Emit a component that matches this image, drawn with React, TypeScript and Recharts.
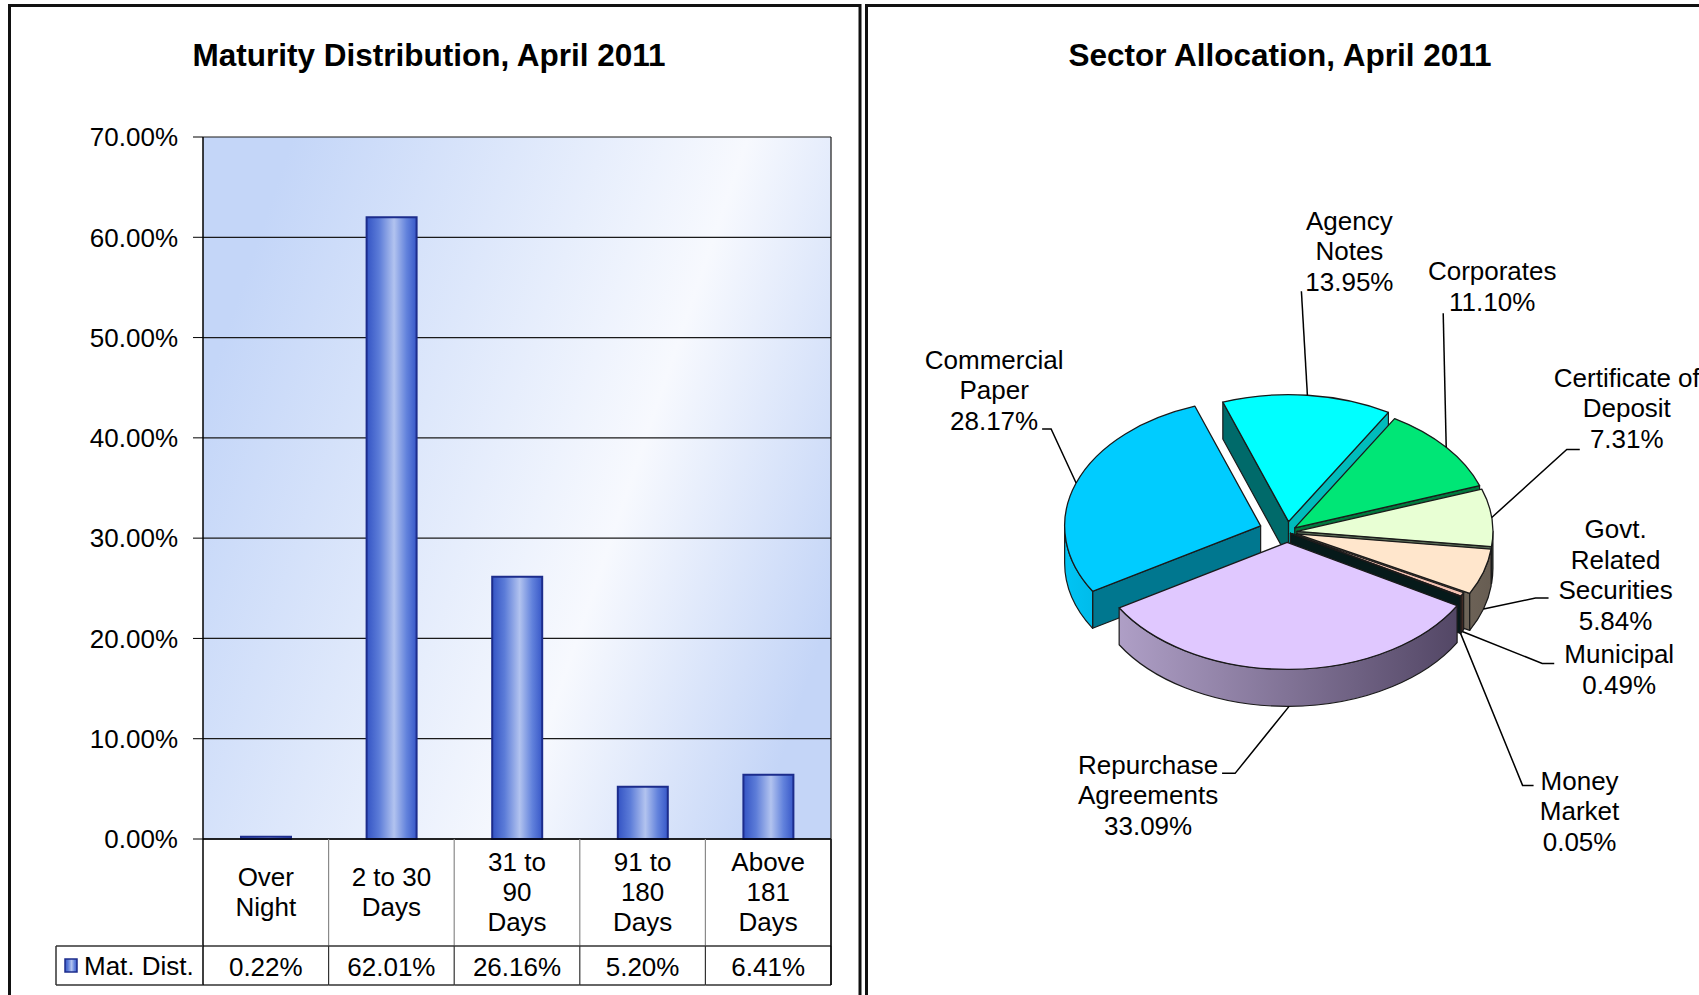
import { BarChart, Bar, XAxis, YAxis, CartesianGrid, PieChart, Pie } from "recharts"

// maturity distribution (left panel)
const maturityBuckets = ["Over\nNight", "2 to 30\nDays", "31 to\n90\nDays", "91 to\n180\nDays", "Above\n181\nDays"]
const maturityShares = [0.22, 62.01, 26.16, 5.2, 6.41]
const maturityTicks = [0, 10, 20, 30, 40, 50, 60, 70]
const seriesLabel = "Mat. Dist."

// sector allocation (right panel)
const sectorNames = [
  "Commercial\nPaper",
  "Agency\nNotes",
  "Corporates",
  "Certificate of\nDeposit",
  "Govt.\nRelated\nSecurities",
  "Municipal",
  "Money\nMarket",
  "Repurchase\nAgreements",
]
const sectorShares = [28.17, 13.95, 11.1, 7.31, 5.84, 0.49, 0.05, 33.09]

const FONT = "'Liberation Sans', Arial, Helvetica, sans-serif"
const EDGE = "#1a1a1a"

// fake 3d pie: tilt of the ellipse, wall depth, per-slice explode
const TILT = 0.648
const DEPTH = 37
const sliceLift = [28, 16, 10, 10, 10, 4, 4, 16]
const sliceTop = ["#00CCFF", "#00FFFF", "#00E676", "#E8FFD4", "#FFE6CC", "#F4C2B2", "#C88A7A", "#E0C8FF"]
const sliceWall = [
  ["#00C4F4", "#00536e"],
  ["#00c8c8", "#005a5a"],
  ["#00b85c", "#00562c"],
  ["#a6b89a", "#556650"],
  ["#bdae9c", "#675d52"],
  ["#a07060", "#3a2420"],
  ["#40302c", "#100808"],
  ["#b6a6ce", "#4c405e"],
]
const sliceCut = [
  ["#00778f", "#00778f"],
  ["#006a6a", "#00bcbc"],
  ["#007a3e", "#007a3e"],
  ["#5a6c56", "#5a6c56"],
  ["#6e6458", "#6e6458"],
  ["#2a1a18", "#2a1a18"],
  ["#061a1a", "#061a1a"],
  ["#6a5a80", "#6a5a80"],
]
// text block centre and leader elbow, relative to the slice's rim point
const labelShift = [[-82, -93], [42, -144], [46, -161], [135, -109], [132, -34], [157, 38], [119, 178], [-141, 89]]
const leaderBend = [[-25, -54, -9], [-6, -104, 0], [-3, -134, 0], [75, -68, 13], [52, -11, 13], [80, 32, 12], [62, 152, 11], [-54, 67, -13]]

const rad = (d: number) => (d * Math.PI) / 180

function sliceGeom(p: any) {
  const i = p.index as number
  const lift = sliceLift[i] ?? 0
  const m = rad(p.midAngle)
  const ox = p.cx + lift * Math.cos(m)
  const oy = p.cy - lift * TILT * Math.sin(m)
  const r = p.outerRadius as number
  const ry = r * TILT
  const at = (deg: number, dz = 0) => [ox + r * Math.cos(rad(deg)), oy - ry * Math.sin(rad(deg)) + dz]
  const hi = Math.max(p.startAngle, p.endAngle)
  const lo = Math.min(p.startAngle, p.endAngle)
  return { i, ox, oy, r, ry, hi, lo, mid: p.midAngle as number, at }
}

function renderCuts(p: any) {
  const g = sliceGeom(p)
  const faces: [number, string][] = []
  if (Math.cos(rad(g.hi)) < 0) faces.push([g.hi, sliceCut[g.i][0]])
  if (Math.cos(rad(g.lo)) > 0) faces.push([g.lo, sliceCut[g.i][1]])
  return (
    <g key={`cut-${g.i}`}>
      {faces.map(([a, c], k) => {
        const [x1, y1] = g.at(a)
        const [x2, y2] = g.at(a, DEPTH)
        return (
          <path
            key={k}
            d={`M${g.ox},${g.oy}L${x1},${y1}L${x2},${y2}L${g.ox},${g.oy + DEPTH}Z`}
            fill={c}
            stroke={EDGE}
            strokeWidth={1.2}
            strokeLinejoin="round"
          />
        )
      })}
    </g>
  )
}

function renderWalls(p: any) {
  const g = sliceGeom(p)
  const parts: number[][] = []
  for (const [a, b] of [[-540, -360], [-180, 0], [180, 360]]) {
    const a1 = Math.min(g.hi, b)
    const a2 = Math.max(g.lo, a)
    if (a1 - a2 > 0.05) parts.push([a1, a2])
  }
  const gid = `pie-wall-${g.i}`
  return (
    <g key={`wall-${g.i}`}>
      <defs>
        <linearGradient id={gid} gradientUnits="userSpaceOnUse" x1={g.ox - g.r} y1={0} x2={g.ox + g.r} y2={0}>
          <stop offset="0" stopColor={sliceWall[g.i][0]} />
          <stop offset="1" stopColor={sliceWall[g.i][1]} />
        </linearGradient>
      </defs>
      {parts.map(([a1, a2], k) => {
        const [x1, y1] = g.at(a1)
        const [x2, y2] = g.at(a2)
        const [x3, y3] = g.at(a2, DEPTH)
        const [x4, y4] = g.at(a1, DEPTH)
        return (
          <path
            key={k}
            d={`M${x1},${y1}A${g.r},${g.ry} 0 0 1 ${x2},${y2}L${x3},${y3}A${g.r},${g.ry} 0 0 0 ${x4},${y4}Z`}
            fill={`url(#${gid})`}
            stroke={EDGE}
            strokeWidth={1.2}
            strokeLinejoin="round"
          />
        )
      })}
    </g>
  )
}

function renderTop(p: any) {
  const g = sliceGeom(p)
  const [sx, sy] = g.at(g.hi)
  const [ex, ey] = g.at(g.lo)
  const large = g.hi - g.lo > 180 ? 1 : 0
  return (
    <path
      key={`top-${g.i}`}
      d={`M${g.ox},${g.oy}L${sx},${sy}A${g.r},${g.ry} 0 ${large} 1 ${ex},${ey}Z`}
      fill={sliceTop[g.i]}
      stroke={EDGE}
      strokeWidth={1.3}
      strokeLinejoin="round"
    />
  )
}

function renderSectorLabel(p: any) {
  const g = sliceGeom(p)
  const [ax, ay0] = g.at(g.mid)
  const ay = Math.sin(rad(g.mid)) < 0 ? ay0 + DEPTH : ay0
  const [dx, dy] = labelShift[g.i]
  const [bx, by, tail] = leaderBend[g.i]
  const lines = [...String(p.payload.sector).split("\n"), `${Number(p.value).toFixed(2)}%`]
  const tx = ax + dx
  const ty = ay + dy
  return (
    <g key={`lbl-${g.i}`}>
      <polyline
        points={`${ax},${ay} ${ax + bx},${ay + by} ${ax + bx + tail},${ay + by}`}
        fill="none"
        stroke="#000"
        strokeWidth={1.5}
      />
      {lines.map((t, k) => (
        <text
          key={k}
          x={tx}
          y={ty + (k - (lines.length - 1) / 2) * 30.5}
          textAnchor="middle"
          dominantBaseline="central"
          fontSize={26}
          fontFamily={FONT}
          fill="#000"
        >
          {t}
        </text>
      ))}
    </g>
  )
}

function BucketCell(props: any) {
  const { x, y, payload } = props
  const i = payload.index as number
  const half = payload.offset || 62.8
  const rowH = 107
  const valH = 39
  const left = x - half
  const right = x + half
  const lines = String(payload.value).split("\n")
  const legendLeft = left - 147
  return (
    <g>
      <line x1={right} y1={y} x2={right} y2={y + rowH} stroke="#8a8a8a" strokeWidth={1.2} />
      <line x1={right} y1={y + rowH} x2={right} y2={y + rowH + valH} stroke="#333" strokeWidth={1.2} />
      <line x1={left} y1={y + rowH} x2={right} y2={y + rowH} stroke="#333" strokeWidth={1.5} />
      <line x1={left} y1={y + rowH + valH} x2={right} y2={y + rowH + valH} stroke="#333" strokeWidth={1.5} />
      {i === maturityBuckets.length - 1 && (
        <line x1={right} y1={y} x2={right} y2={y + rowH + valH} stroke="#000" strokeWidth={1.5} />
      )}
      {lines.map((t, k) => (
        <text
          key={k}
          x={x}
          y={y + 53 + (k - (lines.length - 1) / 2) * 30.3}
          textAnchor="middle"
          dominantBaseline="central"
          fontSize={26}
          fontFamily={FONT}
          fill="#000"
        >
          {t}
        </text>
      ))}
      <text
        x={x}
        y={y + rowH + valH / 2 + 1}
        textAnchor="middle"
        dominantBaseline="central"
        fontSize={26}
        fontFamily={FONT}
        fill="#000"
      >
        {`${maturityShares[i].toFixed(2)}%`}
      </text>
      {i === 0 && (
        <g>
          <line x1={left} y1={y} x2={left} y2={y + rowH + valH} stroke="#000" strokeWidth={1.5} />
          <line x1={legendLeft} y1={y + rowH} x2={left} y2={y + rowH} stroke="#333" strokeWidth={1.5} />
          <line x1={legendLeft} y1={y + rowH + valH} x2={left} y2={y + rowH + valH} stroke="#333" strokeWidth={1.5} />
          <line x1={legendLeft} y1={y + rowH} x2={legendLeft} y2={y + rowH + valH} stroke="#333" strokeWidth={1.5} />
          <rect x={legendLeft + 9} y={y + rowH + 13} width={12} height={13} fill="url(#barFill)" stroke="#1c2c8c" strokeWidth={1.5} />
          <text
            x={legendLeft + 28}
            y={y + rowH + valH / 2}
            dominantBaseline="central"
            fontSize={26}
            fontFamily={FONT}
            fill="#000"
          >
            {seriesLabel}
          </text>
        </g>
      )}
    </g>
  )
}

export default function App() {
  const barData = maturityBuckets.map((b, i) => ({ bucket: b, share: maturityShares[i] }))
  const pieData = sectorNames.map((s, i) => ({ sector: s, share: sectorShares[i] }))

  const pieCommon = {
    data: pieData,
    dataKey: "share",
    nameKey: "sector",
    cx: 1287,
    cy: 532,
    outerRadius: 196,
    startAngle: 211,
    endAngle: -149,
    fill: "none",
    stroke: "none",
    labelLine: false,
    isAnimationActive: false,
  }

  return (
    <div style={{ position: "absolute", left: 0, top: 0, width: 1699, height: 995, background: "#fff", overflow: "hidden", fontFamily: FONT }}>
      <svg width={1699} height={995} style={{ position: "absolute", left: 0, top: 0 }}>
        <rect x={9.5} y={5.5} width={850.5} height={1000} fill="none" stroke="#111" strokeWidth={3} />
        <rect x={866.5} y={5.5} width={900} height={1000} fill="none" stroke="#111" strokeWidth={3} />
        <text x={429} y={66} textAnchor="middle" fontSize={31.5} fontWeight="bold" fontFamily={FONT} fill="#000">
          Maturity Distribution, April 2011
        </text>
        <text x={1280} y={66} textAnchor="middle" fontSize={31.5} fontWeight="bold" fontFamily={FONT} fill="#000">
          Sector Allocation, April 2011
        </text>
      </svg>

      <div style={{ position: "absolute", left: 0, top: 0 }}>
        <BarChart width={860} height={995} data={barData} margin={{ top: 137, right: 29, bottom: 6, left: 103 }}>
          <defs>
            <linearGradient id="plotBg" gradientUnits="userSpaceOnUse" x1={203} y1={400} x2={831} y2={614}>
              <stop offset="0" stopColor="#c4d6f8" />
              <stop offset="0.65" stopColor="#f7f9fe" />
              <stop offset="1" stopColor="#c4d5f7" />
            </linearGradient>
            <linearGradient id="barFill" x1="0" y1="0" x2="1" y2="0">
              <stop offset="0" stopColor="#3454c4" />
              <stop offset="0.25" stopColor="#5c7cd8" />
              <stop offset="0.55" stopColor="#b2c3ef" />
              <stop offset="0.8" stopColor="#6282dc" />
              <stop offset="1" stopColor="#3858c8" />
            </linearGradient>
          </defs>
          <CartesianGrid
            fill="url(#plotBg)"
            stroke="#1a1a1a"
            strokeWidth={1.2}
            verticalCoordinatesGenerator={({ offset }: any) => [offset.left + offset.width]}
          />
          <XAxis
            dataKey="bucket"
            interval={0}
            height={150}
            tickLine={false}
            tickSize={0}
            tickMargin={0}
            axisLine={{ stroke: "#000", strokeWidth: 1.5 }}
            tick={<BucketCell />}
          />
          <YAxis
            width={100}
            domain={[0, 70]}
            ticks={maturityTicks}
            tickFormatter={(v: number) => `${v.toFixed(2)}%`}
            tickSize={10}
            tickMargin={15}
            tick={{ fill: "#000", fontSize: 26, fontFamily: FONT }}
            tickLine={{ stroke: "#000" }}
            axisLine={{ stroke: "#000", strokeWidth: 1.5 }}
          />
          <Bar dataKey="share" barSize={50} fill="url(#barFill)" stroke="#1c2c8c" strokeWidth={2} isAnimationActive={false} />
        </BarChart>
      </div>

      <div style={{ position: "absolute", left: 0, top: 0 }}>
        <PieChart width={1699} height={995} margin={{ top: 0, right: 0, bottom: 0, left: 0 }}>
          <Pie {...pieCommon} label={renderCuts} />
          <Pie {...pieCommon} label={renderWalls} />
          <Pie {...pieCommon} label={renderTop} />
          <Pie {...pieCommon} label={renderSectorLabel} />
        </PieChart>
      </div>
    </div>
  )
}
